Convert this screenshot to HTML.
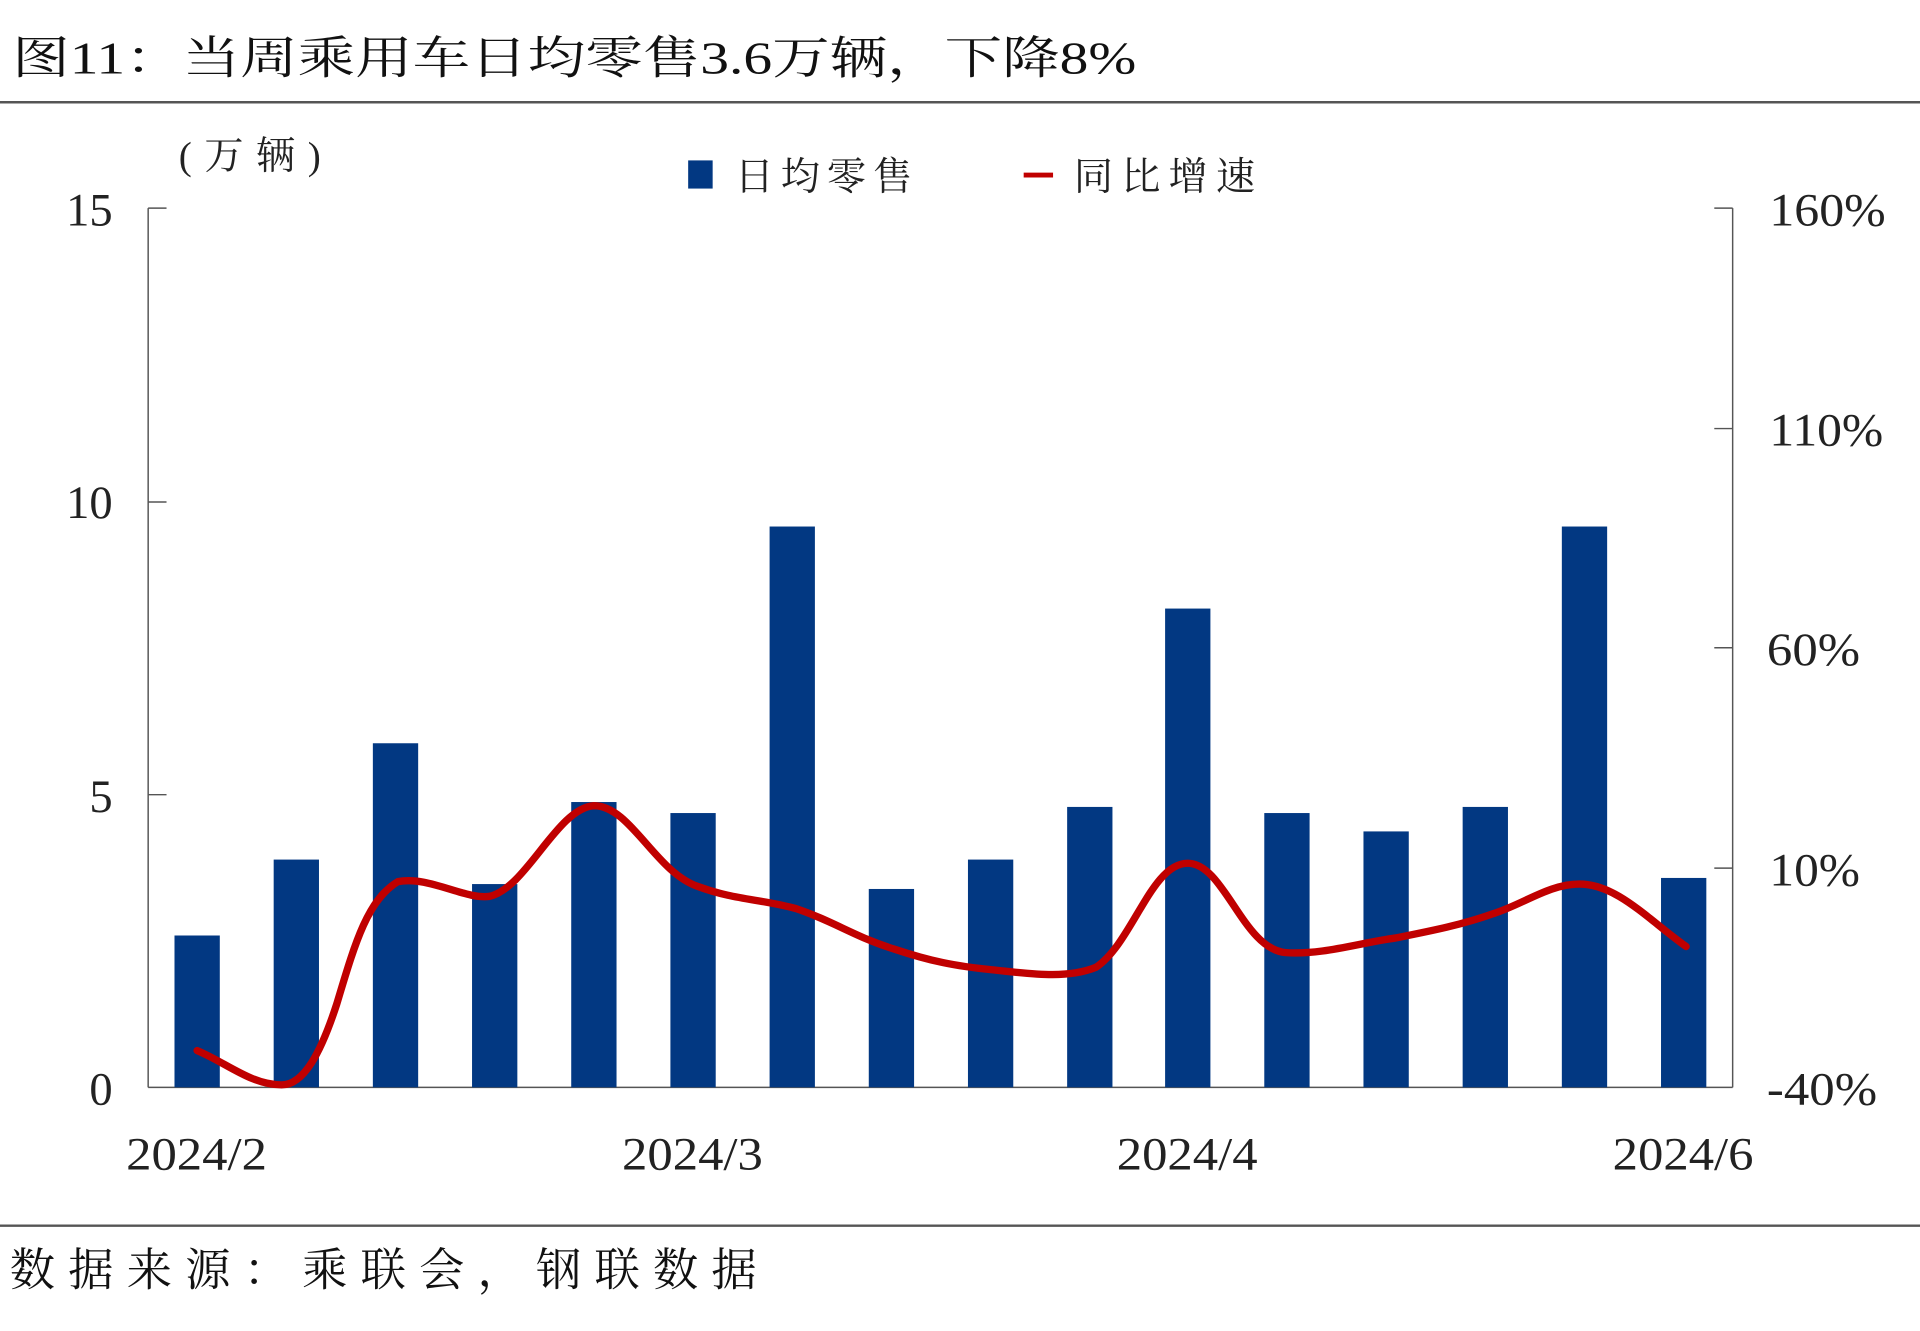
<!DOCTYPE html>
<html><head><meta charset="utf-8"><style>
html,body{margin:0;padding:0;background:#fff;}
svg{display:block;}
.cn{font-family:"Liberation Serif","Noto Serif CJK SC",serif;}
.num{font-family:"Liberation Serif",serif;fill:#222;}
</style></head><body>
<svg width="1920" height="1331" viewBox="0 0 1568 1087" preserveAspectRatio="none" xmlns="http://www.w3.org/2000/svg">
<rect width="1568" height="1087" fill="#fff"/>
<text x="10" y="60" class="cn" font-size="37" fill="#111" textLength="918" lengthAdjust="spacingAndGlyphs">图11：当周乘用车日均零售3.6万辆，下降8%</text>
<line x1="0" y1="83.5" x2="1568" y2="83.5" stroke="#555" stroke-width="2"/>
<line x1="0" y1="1001" x2="1568" y2="1001" stroke="#555" stroke-width="2"/>
<text x="8" y="1050" class="cn" font-size="37" fill="#111" textLength="610" lengthAdjust="spacing">数据来源：乘联会，钢联数据</text>
<text x="146" y="138" class="cn" font-size="32" fill="#222" textLength="116" lengthAdjust="spacing">(万辆)</text>
<rect x="562" y="131" width="20" height="23" fill="#023882"/>
<text x="600" y="155" class="cn" font-size="32" fill="#222" textLength="145" lengthAdjust="spacing">日均零售</text>
<line x1="836" y1="143" x2="860" y2="143" stroke="#c00000" stroke-width="4"/>
<text x="877" y="155" class="cn" font-size="32" fill="#222" textLength="148" lengthAdjust="spacing">同比增速</text>
<g stroke="#555" stroke-width="1.2" fill="none">
<line x1="121" y1="170" x2="121" y2="888"/>
<line x1="1415" y1="170" x2="1415" y2="888"/>
<line x1="121" y1="888" x2="1415" y2="888"/>
<line x1="121" y1="170" x2="136" y2="170"/><line x1="121" y1="410" x2="136" y2="410"/><line x1="121" y1="649" x2="136" y2="649"/>
<line x1="1400" y1="170" x2="1415" y2="170"/><line x1="1400" y1="350" x2="1415" y2="350"/><line x1="1400" y1="529" x2="1415" y2="529"/><line x1="1400" y1="709" x2="1415" y2="709"/>
</g>
<g class="num" font-size="38" text-anchor="end">
<text x="92" y="184">15</text><text x="92" y="423">10</text><text x="92" y="663">5</text><text x="92" y="902">0</text>
</g>
<g class="num" font-size="38">
<text x="1445" y="184" textLength="95" lengthAdjust="spacingAndGlyphs">160%</text><text x="1445" y="364" textLength="93" lengthAdjust="spacingAndGlyphs">110%</text><text x="1443" y="543" textLength="76" lengthAdjust="spacingAndGlyphs">60%</text><text x="1445" y="723" textLength="74" lengthAdjust="spacingAndGlyphs">10%</text><text x="1443" y="902" textLength="90" lengthAdjust="spacingAndGlyphs">-40%</text>
</g>
<g class="num" font-size="38">
<text x="103" y="955" textLength="115" lengthAdjust="spacingAndGlyphs">2024/2</text><text x="508" y="955" textLength="115" lengthAdjust="spacingAndGlyphs">2024/3</text><text x="912" y="955" textLength="115" lengthAdjust="spacingAndGlyphs">2024/4</text><text x="1317" y="955" textLength="115" lengthAdjust="spacingAndGlyphs">2024/6</text>
</g>
<g fill="#023882">
<rect x="142.5" y="764" width="37" height="124"/>
<rect x="223.5" y="702" width="37" height="186"/>
<rect x="304.5" y="607" width="37" height="281"/>
<rect x="385.5" y="722" width="37" height="166"/>
<rect x="466.5" y="655" width="37" height="233"/>
<rect x="547.5" y="664" width="37" height="224"/>
<rect x="628.5" y="430" width="37" height="458"/>
<rect x="709.5" y="726" width="37" height="162"/>
<rect x="790.5" y="702" width="37" height="186"/>
<rect x="871.5" y="659" width="37" height="229"/>
<rect x="951.5" y="497" width="37" height="391"/>
<rect x="1032.5" y="664" width="37" height="224"/>
<rect x="1113.5" y="679" width="37" height="209"/>
<rect x="1194.5" y="659" width="37" height="229"/>
<rect x="1275.5" y="430" width="37" height="458"/>
<rect x="1356.5" y="717" width="37" height="171"/>
</g>
<path d="M161,858 C185,868 205,886 230,886 C248,886 262,860 275,820 C290,770 300,735 325,720 C350,715 380,735 400,732 C430,725 455,660 485,658 C515,658 535,712 570,724 C600,735 620,734 650,742 C680,752 700,766 730,775 C760,785 780,789 810,792 C840,795 870,800 895,790 C925,770 940,705 970,705 C1000,705 1015,775 1050,778 C1080,780 1110,770 1140,766 C1170,760 1195,755 1220,746 C1245,738 1265,722 1290,722 C1320,722 1345,750 1377,773" fill="none" stroke="#c00000" stroke-width="6" stroke-linecap="round" stroke-linejoin="round"/>
</svg>
</body></html>
